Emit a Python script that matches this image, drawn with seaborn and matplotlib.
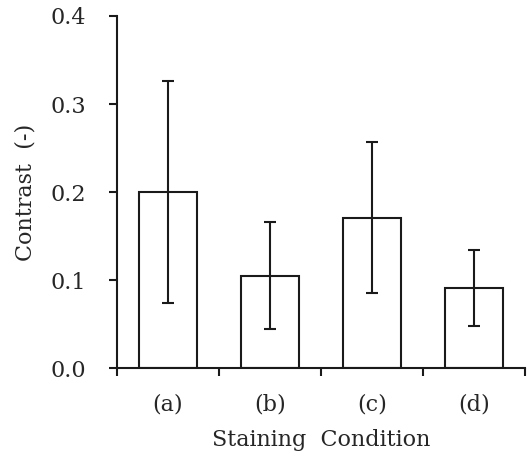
import numpy as np
import pandas as pd
import seaborn as sns
import matplotlib.pyplot as plt
from matplotlib.ticker import FixedLocator

# data
conditions = ['(a)', '(b)', '(c)', '(d)']
contrast = [0.200, 0.105, 0.171, 0.091]
err = [0.126, 0.061, 0.086, 0.043]

df = pd.DataFrame({'condition': conditions, 'contrast': contrast})

sns.set_theme(style='ticks')
plt.rcParams['font.family'] = ['DejaVu Serif']

fig = plt.figure(figsize=(5.27, 4.61), dpi=100)
ax = fig.add_axes([0.222, 0.2017, 0.774, 0.7636])

sns.barplot(data=df, x='condition', y='contrast', color='white',
            edgecolor='#1a1a1a', linewidth=1.5, width=0.57,
            errorbar=None, ax=ax)
ax.errorbar(np.arange(len(conditions)), contrast, yerr=err, fmt='none',
            ecolor='#1a1a1a', elinewidth=1.5, capsize=4.5, capthick=1.5)

ax.set_xlim(-0.5, 3.5)
ax.set_ylim(0, 0.4)
ax.set_yticks([0.0, 0.1, 0.2, 0.3, 0.4])
ax.set_yticklabels(['0.0', '0.1', '0.2', '0.3', '0.4'])

# category boundary ticks on the x axis, labels at the centres
ax.xaxis.set_minor_locator(FixedLocator([-0.5, 0.5, 1.5, 2.5, 3.5]))
ax.tick_params(axis='x', which='major', length=0, pad=18, labelsize=16)
ax.tick_params(axis='x', which='minor', length=6, width=1.5, direction='out', color='#1a1a1a')
ax.tick_params(axis='y', which='major', length=6, width=1.5, direction='out',
               color='#1a1a1a', labelsize=16, pad=16)

for s in ['left', 'bottom']:
    ax.spines[s].set_linewidth(1.5)
    ax.spines[s].set_color('#1a1a1a')
sns.despine(ax=ax)

ax.set_xlabel('Staining  Condition', fontsize=16, labelpad=10)
ax.set_ylabel('Contrast  (-)', fontsize=16, labelpad=10)

fig.savefig('out.png', dpi=100)
